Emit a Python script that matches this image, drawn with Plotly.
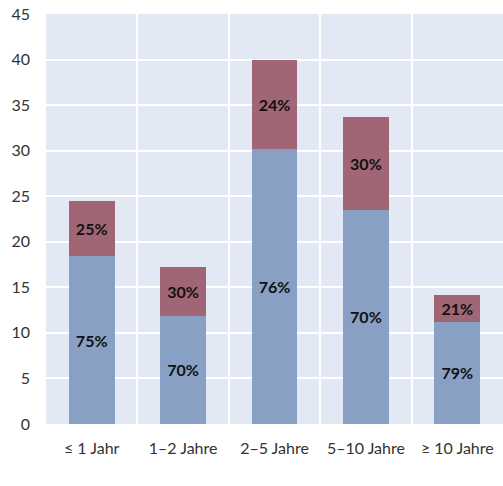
import plotly.graph_objects as go

categories = ["≤ 1 Jahr", "1–2 Jahre", "2–5 Jahre", "5–10 Jahre", "≥ 10 Jahre"]
lower_values = [18.4, 11.9, 30.2, 23.5, 11.2]
upper_values = [6.05, 5.3, 9.8, 10.2, 3.0]
lower_labels = ["75%", "70%", "76%", "70%", "79%"]
upper_labels = ["25%", "30%", "24%", "30%", "21%"]
y_ticks = [0, 5, 10, 15, 20, 25, 30, 35, 40, 45]

FONT = "Lato"
blue = "#87A0C4"
red = "#A06676"

fig = go.Figure()
fig.add_trace(go.Bar(
    x=categories, y=lower_values, text=lower_labels,
    marker=dict(color=blue, line=dict(width=0)),
    width=0.5, textposition="inside", insidetextanchor="middle",
    textfont=dict(family=FONT, size=16, color="#111111", weight="bold"),
    textangle=0, hoverinfo="skip",
))
fig.add_trace(go.Bar(
    x=categories, y=upper_values, text=upper_labels,
    marker=dict(color=red, line=dict(width=0)),
    width=0.5, textposition="inside", insidetextanchor="middle",
    textfont=dict(family=FONT, size=16, color="#111111", weight="bold"),
    textangle=0, hoverinfo="skip",
))
fig.update_layout(
    barmode="stack",
    width=503, height=486,
    margin=dict(l=46, r=0, t=14, b=62),
    paper_bgcolor="white",
    plot_bgcolor="#E2E8F4",
    showlegend=False,
    uniformtext=dict(minsize=8, mode="show"),
    font=dict(family=FONT, size=16, color="#333333"),
    xaxis=dict(
        type="category", tickson="boundaries", showgrid=True,
        gridcolor="white", gridwidth=1.5, ticks="", showline=False,
        tickfont=dict(family=FONT, size=16, color="#333333"),
        ticklabelstandoff=13, zeroline=False,
    ),
    yaxis=dict(
        range=[0, 45], tickvals=y_ticks, showgrid=True,
        gridcolor="white", gridwidth=1.5, zeroline=False, ticks="",
        tickfont=dict(family=FONT, size=16, color="#333333"),
        ticklabelstandoff=15,
    ),
)
fig.write_html("out.html")
